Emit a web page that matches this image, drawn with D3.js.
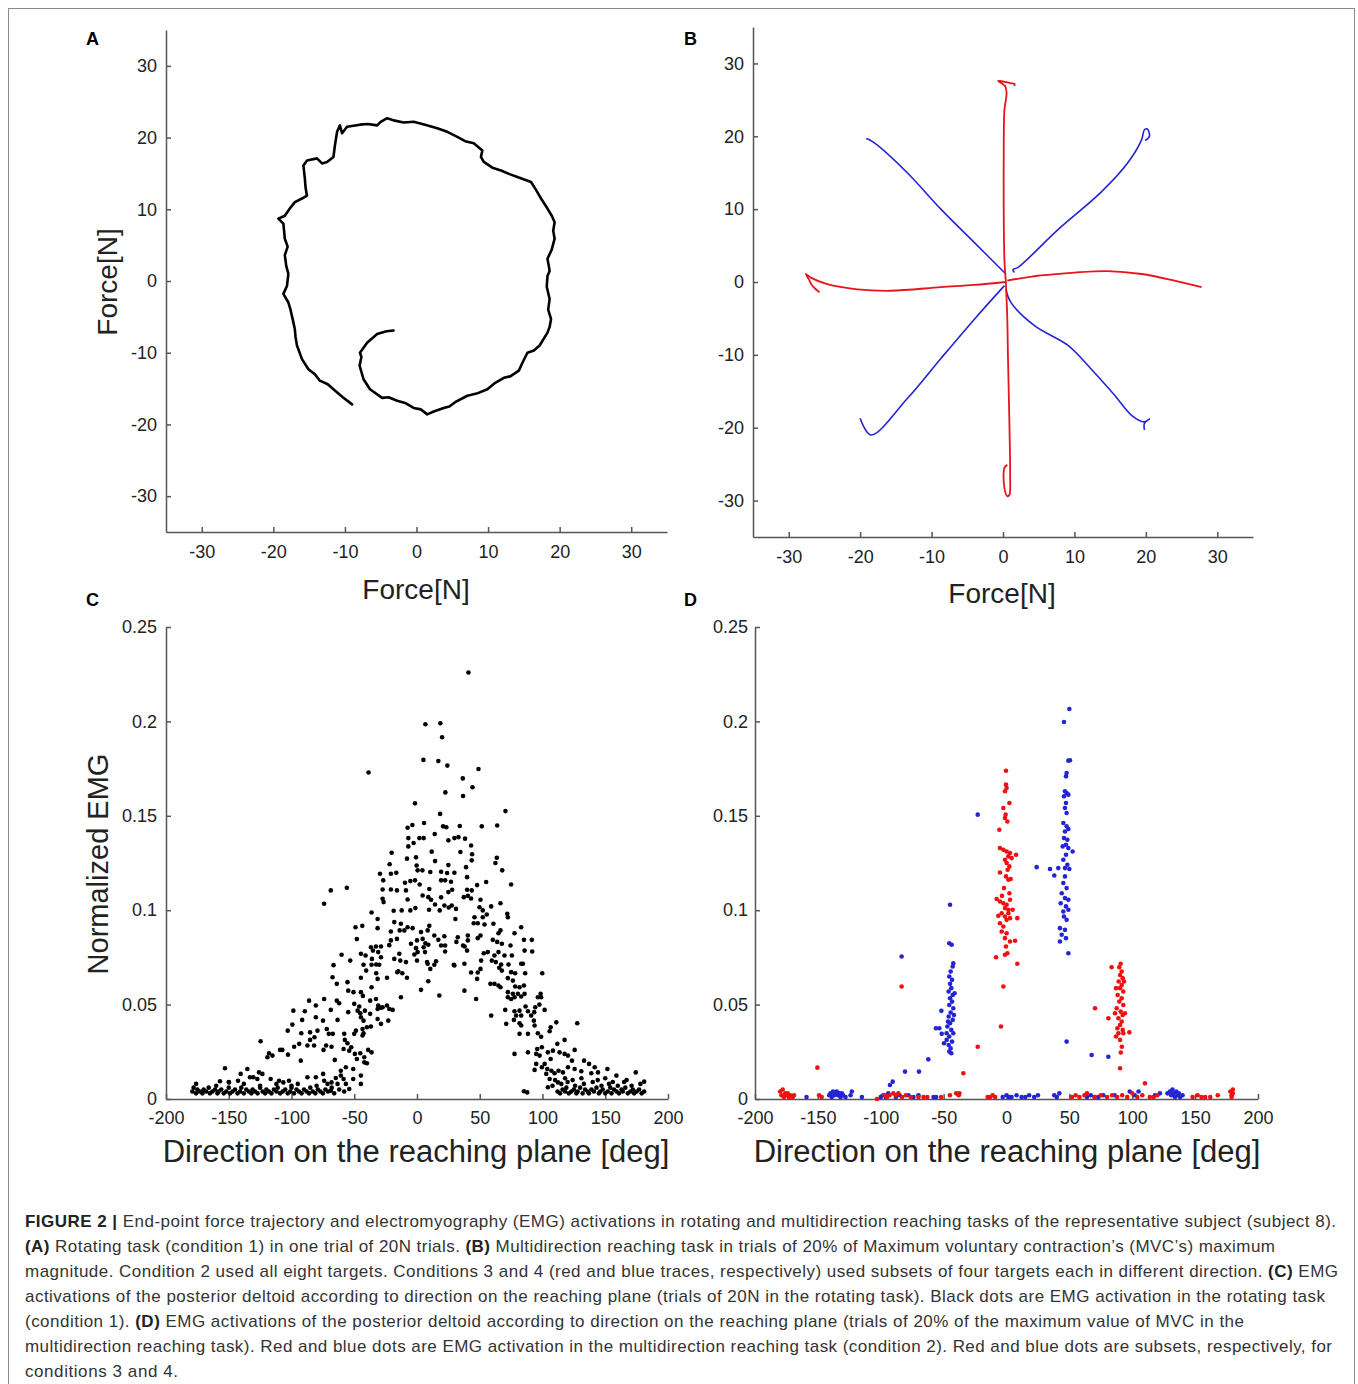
<!DOCTYPE html>
<html lang="en">
<head>
<meta charset="UTF-8">
<title>Figure 2</title>
<script src="https://cdn.jsdelivr.net/npm/d3@7"></script>
<style>
  body { margin: 0; background: #fff; }
  svg text { font-family: "Liberation Sans", Arial, sans-serif; }
  .tick text { font-size: 18px; fill: #222; }
  .domain, .tick line { stroke: #555; stroke-width: 1.5; }
  .axis-label { fill: #222; }
  .panel-letter { font-size: 18px; font-weight: bold; fill: #000; }
  .caption { font-size: 17px; fill: #333; }
</style>
</head>
<body>
<div id="chart-space"></div>
<script>
// ---- data ----
var forceTicks = [-30, -20, -10, 0, 10, 20, 30];
var dirTicks = [-200, -150, -100, -50, 0, 50, 100, 150, 200];
var emgTicks = [0, 0.05, 0.1, 0.15, 0.2, 0.25];

// panel A: rotating task force trajectory [Fx, Fy]
var traceA = [[-3.2,-6.9],[-4.2,-7.0],[-5.5,-7.4],[-6.9,-8.6],[-7.9,-10.0],[-7.7,-10.6],[-7.95,-11.8],[-7.4,-13.7],[-6.5,-15.1],
  [-4.8,-16.3],[-3.9,-16.2],[-2.7,-16.7],[-1.6,-17.0],[-0.4,-17.7],[0.6,-17.9],[1.5,-18.6],[2.4,-18.2],[3.8,-17.7],[4.6,-17.5],
  [5.4,-16.9],[7.1,-16.0],[8.4,-15.7],[9.9,-15.1],[11.0,-14.2],[12.2,-13.5],[13.1,-13.3],[14.3,-12.5],[14.8,-11.4],[15.5,-10.0],
  [16.4,-9.7],[17.2,-9.0],[18.3,-7.2],[18.6,-6.4],[18.8,-5.3],[18.4,-4.0],[18.6,-2.5],[18.2,-0.8],[18.3,0.7],[18.6,1.4],
  [18.5,2.0],[18.3,3.1],[18.9,4.4],[19.3,5.9],[19.1,7.0],[19.3,8.2],[18.9,9.1],[18.3,10.1],[17.4,11.5],[16.7,12.7],[16.0,13.8],
  [14.1,14.5],[13.0,14.9],[11.8,15.4],[10.6,15.8],[9.4,16.6],[9.0,17.3],[9.2,18.2],[8.0,19.2],[6.8,19.5],[5.7,20.1],[4.3,20.8],
  [2.9,21.3],[1.2,21.8],[-0.4,22.2],[-1.8,22.1],[-3.2,22.4],[-4.1,22.7],[-5.0,22.2],[-5.5,21.7],[-6.8,21.9],[-7.9,21.8],
  [-9.7,21.5],[-10.4,20.6],[-10.7,21.7],[-11.1,20.8],[-11.4,18.9],[-11.6,17.3],[-12.5,16.6],[-13.2,16.4],[-13.9,17.1],
  [-15.3,16.8],[-15.8,16.1],[-15.6,14.3],[-15.5,13.0],[-15.3,11.9],[-16.0,11.5],[-17.0,11.0],[-17.7,10.1],[-18.4,9.1],
  [-19.3,8.7],[-18.6,8.0],[-18.4,5.9],[-18.0,4.8],[-18.4,3.6],[-18.2,2.1],[-17.9,1.0],[-18.1,-0.7],[-18.6,-1.8],[-17.9,-3.0],
  [-17.6,-4.0],[-17.4,-4.9],[-17.0,-6.7],[-16.9,-7.8],[-16.7,-9.0],[-16.0,-10.9],[-15.1,-12.3],[-14.2,-13.0],[-13.5,-13.9],
  [-12.4,-14.4],[-11.6,-15.1],[-10.3,-16.2],[-9.0,-17.2]];

// panel B: multidirection reaching traces (condition 3 red, condition 4 blue)
var bRedUp = [[0.4,0],[0.2,3.1],[0.1,10],[0.1,16.8],[0.2,23.6],[0.5,25.9],[0.3,26.9],[-0.7,27.6],[1.0,27.3],[1.6,27.2],[1.6,26.9]];
var bRedDown = [[0.4,0],[0.6,-5],[0.7,-10.5],[0.9,-19.6],[1.0,-26.5],[0.9,-29.2],[0.6,-29.4],[0.2,-28.3],[0.2,-25.5],[0.6,-25.1]];
var bRedLeft = [[0.4,0],[-4,-0.4],[-8.7,-0.7],[-15.7,-1.2],[-20.4,-1.0],[-24.6,-0.3],[-26.9,0.6],[-27.6,1.1],[-27.2,0.4],[-26.7,-0.5],[-25.7,-1.4]];
var bRedRight = [[0.6,0.2],[5.3,0.9],[10.0,1.3],[14.7,1.5],[19.4,1.1],[24.0,0.2],[27.8,-0.7]];
var bBlueUL = [[0.4,1.1],[-4,5.4],[-8.7,10],[-13.4,15],[-18,19.1],[-19.1,19.7],[-18.6,19.5]];
var bBlueUR = [[1.6,1.3],[1.4,1.7],[2.1,2.0],[7.7,7.2],[13.7,12.3],[17.5,16.4],[19.4,19.5],[19.8,20.9],[20.2,21.0],[20.5,20.0],[19.9,19.4]];
var bBlueLL = [[0.2,-0.5],[-4,-5.1],[-8.7,-10.5],[-13.4,-16],[-18.5,-21],[-20,-18.7]];
var bBlueLR = [[0.4,-1],[1.1,-2.8],[4.4,-6],[9.1,-8.7],[12.3,-11.9],[15.6,-15.5],[18,-18.3],[19.8,-19.2],[20.5,-18.8],[19.8,-19.4],[19.8,-20.3]];

// panel C: EMG vs direction, rotating task [deg, EMG]
var cDots = [[41.0,0.2259],[6.7,0.1985],[18.6,0.199],[20.0,0.1916],[5.1,0.1796],[17.0,0.179],[24.2,0.1766],[-38.6,0.1729],
  [49.0,0.1748],[36.5,0.1698],[44.2,0.1651],[22.6,0.1624],[36.7,0.1605],[-1.6,0.1566],[70.5,0.1525],[18.4,0.151],[5.6,0.1462],
  [-3.7,0.1451],[-7.5,0.1437],[20.8,0.1444],[23.4,0.1439],[34.1,0.1446],[51.6,0.1444],[63.9,0.1449],[14.1,0.1403],[-6.9,0.1382],
  [1.9,0.1382],[5.3,0.1382],[25.0,0.137],[29.8,0.1382],[33.0,0.1387],[38.3,0.1379],[-6.9,0.1338],[-2.7,0.1356],[43.1,0.1343],
  [-20.2,0.1304],[11.7,0.131],[34.6,0.1308],[-8.0,0.1273],[-0.8,0.128],[43.9,0.1296],[63.6,0.1278],[62.5,0.125],[43.6,0.1264],
  [-21.8,0.1243],[14.4,0.126],[-0.3,0.1237],[25.0,0.1239],[39.1,0.1228],[67.9,0.1211],[-29.5,0.1193],[0.5,0.1211],[4.3,0.1211],
  [10.6,0.1202],[19.2,0.1204],[24.0,0.1197],[29.8,0.1198],[-20.8,0.1193],[-16.5,0.1198],[39.9,0.1175],[-26.9,0.1158],
  [-9.6,0.1145],[-5.3,0.1154],[-1.6,0.1158],[2.1,0.1136],[19.2,0.1158],[22.4,0.1158],[27.1,0.1151],[47.9,0.1133],[55.1,0.1149],
  [75.0,0.1136],[-27.4,0.111],[-20.8,0.111],[-16.0,0.1105],[-8.8,0.1105],[9.8,0.1112],[28.0,0.1108],[39.9,0.1108],[43.6,0.1105],
  [4.5,0.1078],[9.0,0.1069],[19.2,0.1068],[25.0,0.1096],[40.5,0.1076],[50.6,0.1055],[-27.4,0.106],[-26.6,0.1043],[-7.5,0.1057],
  [11.2,0.1055],[14.4,0.103],[21.8,0.1025],[27.7,0.1025],[37.3,0.1069],[43.1,0.1062],[-74.0,0.1034],[-68.7,0.1105],[-55.9,0.1119],
  [66.5,0.1037],[49.8,0.1016],[25.3,0.1014],[31.1,0.1007],[52.4,0.0999],[59.1,0.102],[-5.3,0.0999],[-12.2,0.0999],[-36.2,0.0988],
  [-18.6,0.0997],[-1.3,0.1011],[9.6,0.1002],[18.1,0.0999],[55.6,0.0977],[71.9,0.0981],[72.4,0.0963],[-31.4,0.0953],[30.6,0.0953],
  [45.8,0.0963],[52.4,0.0963],[-18.1,0.0937],[-12.8,0.0928],[-7.5,0.091],[-3.5,0.0905],[9.8,0.0917],[45.2,0.0931],[48.4,0.0931],
  [53.8,0.0924],[60.9,0.0928],[83.0,0.091],[77.7,0.0878],[66.5,0.0893],[64.9,0.0878],[-49.0,0.091],[-43.6,0.0917],[-31.4,0.0905],
  [-20.8,0.0887],[-13.8,0.0893],[-10.1,0.0893],[3.2,0.0884],[8.5,0.0893],[13.8,0.0866],[21.8,0.0862],[32.5,0.0857],[40.5,0.0866],
  [50.6,0.0866],[4.5,0.0848],[-47.9,0.0847],[-20.8,0.084],[-16.0,0.0848],[0,0.084],[6.7,0.0825],[17.0,0.0843],[31.4,0.0832],
  [40.5,0.084],[48.4,0.0852],[60.4,0.0843],[63.9,0.0832],[85.2,0.0843],[91.5,0.0843],[9.0,0.0817],[19.2,0.0813],[22.4,0.0813],
  [36.7,0.0813],[74.5,0.0813],[67.6,0.0822],[-36.7,0.0804],[-32.7,0.0808],[-28.7,0.0808],[-22.1,0.0815],[-4.8,0.0822],
  [-0.8,0.0799],[5.3,0.0804],[38.0,0.0808],[-44.7,0.0769],[-41.0,0.076],[-35.1,0.0786],[-30.9,0.0778],[-14.1,0.0769],[-2.1,0.0765],
  [0.5,0.0778],[6.4,0.0778],[22.4,0.0781],[39.9,0.0786],[53.2,0.0772],[56.4,0.0778],[61.7,0.076],[64.9,0.0778],[69.7,0.076],
  [75.6,0.076],[85.7,0.0786],[91.8,0.0781],[-60.1,0.0764],[-53.2,0.0733],[-35.9,0.0742],[-28.7,0.0751],[-18.1,0.0742],
  [-13.3,0.0733],[-8.8,0.0725],[0,0.0733],[8.0,0.0725],[15.2,0.073],[29.3,0.0711],[37.8,0.0716],[51.1,0.0733],[59.6,0.0733],
  [62.8,0.0725],[67.1,0.0712],[72.9,0.0712],[83.0,0.0716],[-66.5,0.0709],[-42.6,0.0711],[-36.2,0.0711],[-32.5,0.0712],
  [-30.1,0.0711],[8.5,0.0716],[10.6,0.0689],[13.8,0.0711],[29.8,0.0707],[65.5,0.0695],[67.6,0.068],[75.0,0.0672],[78.2,0.0666],
  [84.4,0.0716],[86.2,0.0666],[99.8,0.0666],[-40.5,0.068],[-32.5,0.0666],[-15.7,0.0672],[-11.7,0.0666],[43.1,0.067],[48.4,0.067],
  [50.6,0.0689],[-67.3,0.0645],[-44.7,0.0642],[-31.4,0.0636],[-23.9,0.0642],[-8.0,0.0642],[9.0,0.0624],[47.9,0.0636],[72.4,0.064],
  [76.4,0.0627],[-63.9,0.061],[-55.4,0.0619],[-14.9,0.0677],[58.5,0.061],[61.7,0.061],[64.9,0.0601],[66.5,0.0592],[78.2,0.0596],
  [81.7,0.0592],[85.2,0.0601],[-36.2,0.0592],[3.2,0.0578],[17.8,0.0548],[37.8,0.0574],[-54.8,0.0574],[-50.6,0.0566],[-44.7,0.0566],
  [72.4,0.0566],[76.4,0.0557],[80.4,0.0557],[83.0,0.0543],[85.7,0.0557],[98.5,0.0557],[-43.1,0.0546],[-37.3,0.0521],[-32.7,0.053],
  [72.4,0.0539],[75.0,0.053],[77.7,0.0539],[96.3,0.0539],[98.9,0.0539],[-86.0,0.0521],[-80.6,0.0495],[-74.0,0.053],[-63.9,0.0521],
  [-62.0,0.0507],[-50.0,0.0504],[-46.0,0.049],[-30.9,0.0495],[-27.4,0.0486],[-23.9,0.0495],[-12.8,0.0539],[47.1,0.053],
  [59.1,0.0442],[97.5,0.05],[94.2,0.0486],[81.7,0.0468],[86.5,0.049],[-98.5,0.0468],[-89.4,0.0465],[-68.7,0.0472],[-54.8,0.046],
  [-47.3,0.0468],[-45.2,0.0454],[-41.5,0.0468],[-37.3,0.0451],[-31.4,0.0477],[-28.7,0.0483],[-22.1,0.0477],[-19.4,0.0472],
  [70.3,0.0472],[77.7,0.0465],[79.0,0.0442],[88.4,0.0465],[91.0,0.0442],[101.7,0.0472],[93.4,0.046],[83.0,0.0442],[71.1,0.0398],
  [-91.5,0.0419],[-80.6,0.0433],[-74.9,0.0415],[-63.3,0.0419],[-44.7,0.0433],[-42.6,0.0415],[-31.4,0.0424],[-22.9,0.0415],
  [77.2,0.0419],[81.7,0.0401],[93.1,0.0415],[111.0,0.0406],[127.7,0.0401],[-103.0,0.0362],[-71.9,0.0371],[-79.3,0.0362],
  [-99.3,0.0394],[-48.7,0.0362],[-43.4,0.0371],[-39.9,0.038],[-36.7,0.0384],[-28.7,0.0398],[83.0,0.0389],[93.7,0.0389],
  [106.5,0.038],[105.7,0.0359],[-92.2,0.0348],[-85.2,0.0353],[-81.7,0.0327],[-70.3,0.0345],[-67.1,0.0345],[-58.0,0.0345],
  [-50.0,0.0345],[-43.4,0.0336],[-42.6,0.0348],[81.7,0.0345],[88.4,0.0345],[96.3,0.0348],[98.9,0.033],[117.6,0.0313],
  [-124.6,0.0306],[-119.2,0.0221],[-117.9,0.0242],[-115.2,0.023],[-109.1,0.026],[-107.3,0.026],[-102.8,0.0235],[-97.9,0.0277],
  [-93.9,0.0292],[-92.6,0.0203],[-87.3,0.0283],[-82.0,0.0283],[-74.5,0.026],[-72.4,0.0283],[-85.2,0.0313],[-68.1,0.0277],
  [-65.5,0.0207],[-57.5,0.0313],[-55.4,0.0295],[-58.5,0.0265],[-54.0,0.0256],[-52.4,0.0274],[-49.5,0.0239],[-47.9,0.0212],
  [-45.2,0.0242],[-42.0,0.0221],[-39.9,0.0189],[-36.2,0.0247],[-50.8,0.0159],[-56.7,0.0168],[-60.7,0.015],[-42.0,0.0194],
  [-38.9,0.026],[77.7,0.0239],[88.4,0.0247],[95.8,0.0265],[95.0,0.0239],[97.7,0.023],[99.5,0.0274],[104.3,0.0247],[106.5,0.0212],
  [108.3,0.0256],[111.8,0.0292],[113.6,0.0247],[117.6,0.0239],[120.3,0.023],[125.6,0.026],[123.5,0.0203],[95.0,0.0186],
  [99.5,0.0168],[101.7,0.0186],[103.8,0.0159],[93.7,0.0154],[107.1,0.015],[109.6,0.0136],[112.8,0.015],[116.3,0.0141],
  [120.3,0.0168],[125.6,0.0159],[130.9,0.0147],[133.1,0.0203],[137.1,0.0186],[141.6,0.0168],[138.9,0.0136],[144.2,0.0141],
  [151.7,0.0159],[158.9,0.0124],[174.3,0.0141],[181.0,0.0092],[103.0,0.0133],[105.7,0.0106],[104.3,0.0062],[112.3,0.0088],
  [87.8,0.0035],[85.2,0.0041],[-153.0,0.0163],[-135.2,0.0159],[-140.5,0.0133],[-133.1,0.0115],[-125.9,0.0141],[-123.2,0.0133],
  [-157.0,0.0094],[-149.8,0.0088],[-142.6,0.0097],[-130.4,0.0115],[-127.2,0.0106],[-116.6,0.0106],[-109.9,0.0097],
  [-106.5,0.0088],[-102.0,0.0097],[-87.3,0.0115],[-80.6,0.0115],[-74.8,0.0133],[-74.0,0.0097],[-71.3,0.008],[-68.1,0.0088],
  [-64.7,0.0111],[-63.3,0.008],[-60.7,0.0124],[-58.5,0.0106],[-56.7,0.008],[-54.0,0.0053],[-50.8,0.0106],[-44.7,0.008],
  [-44.7,0.0124],[-68.7,0.0044]];
// dense baseline bands of panel C
var cBaseLeft = [[-179,0.004],[-178,0.006],[-176,0.003],[-175,0.005],[-173,0.004],[-171,0.003],[-170,0.005],[-168,0.004],
  [-166,0.006],[-165,0.003],[-163,0.004],[-161,0.005],[-159,0.003],[-158,0.004],[-156,0.005],[-154,0.003],[-152,0.004],
  [-150,0.006],[-149,0.003],[-147,0.004],[-145,0.005],[-143,0.003],[-141,0.004],[-140,0.006],[-138,0.003],[-136,0.005],
  [-134,0.004],[-132,0.003],[-131,0.005],[-129,0.004],[-127,0.003],[-125,0.006],[-123,0.004],[-121,0.003],[-120,0.005],
  [-118,0.004],[-116,0.003],[-114,0.005],[-112,0.004],[-111,0.006],[-109,0.003],[-107,0.004],[-105,0.005],[-103,0.003],
  [-101,0.004],[-100,0.006],[-98,0.003],[-96,0.005],[-94,0.004],[-92,0.003],[-90,0.005],[-88,0.004],[-86,0.003],[-85,0.006],
  [-83,0.004],[-81,0.003],[-79,0.005],[-77,0.004],[-75,0.003],[-73,0.005],[-71,0.004],[-176,0.008],[-160,0.007],[-150,0.009],
  [-138,0.008],[-125,0.007],[-112,0.008],[-100,0.007],[-95,0.008],[-80,0.007],[-68,0.006],[-66,0.003],[-62,0.005],[-58,0.004]];
var cBaseRight = [[112,0.004],[114,0.003],[116,0.005],[118,0.004],[119,0.006],[121,0.003],[123,0.004],[125,0.005],[127,0.003],
  [128,0.004],[130,0.006],[132,0.003],[134,0.005],[136,0.004],[137,0.003],[139,0.005],[141,0.004],[143,0.006],[145,0.003],
  [146,0.004],[148,0.005],[150,0.003],[152,0.004],[154,0.006],[155,0.003],[157,0.005],[159,0.004],[161,0.003],[163,0.005],
  [164,0.004],[166,0.006],[168,0.003],[170,0.004],[172,0.005],[173,0.003],[175,0.004],[177,0.005],[179,0.003],[181,0.004],
  [115,0.008],[120,0.009],[126,0.007],[133,0.008],[140,0.009],[147,0.007],[153,0.008],[160,0.007],[165,0.009],[171,0.007],
  [178,0.008],[108,0.007],[110,0.010],[118,0.011],[124,0.010],[131,0.011],[144,0.010],[150,0.011],[156,0.009],[167,0.010]];

// panel D: EMG vs direction, multidirection task
var dRed = [[-0.4,0.1739],[-0.4,0.1665],[0.1,0.1647],[-1.2,0.163],[2.3,0.1568],[-2.5,0.1541],[-0.7,0.1506],[-1.2,0.1488],
  [0.7,0.147],[-5.7,0.1426],[-5.2,0.1329],[-2.5,0.132],[0.1,0.1311],[2.8,0.1303],[7.6,0.1294],[1.5,0.1285],[4.1,0.1276],
  [-1.2,0.1267],[0.1,0.125],[2.3,0.1232],[0.9,0.1214],[-5.2,0.12],[-0.4,0.1179],[1.5,0.1161],[-7.8,0.1059],[-5.2,0.1046],
  [-2.5,0.1037],[0.1,0.1029],[2.8,0.1055],[-1.2,0.1011],[1.5,0.1002],[-3.8,0.0984],[-1.2,0.0967],[0.1,0.0949],[-5.2,0.0931],
  [-2.5,0.0914],[2.8,0.0958],[8.6,0.0958],[1.5,0.0984],[-6.5,0.097],[-3.8,0.0887],[0.1,0.0878],[-1.2,0.0852],[2.8,0.0834],
  [6.8,0.0838],[-0.4,0.0808],[0.7,0.0772],[-1.2,0.0764],[-8.3,0.0751],[8.6,0.0716],[-2.5,0.0596],[-4.4,0.0384],[-22.9,0.0277],
  [-34.3,0.0136],[2.3,0.109],[-2.0,0.1117],[3.3,0.1165],[-3.6,0.1076],[4.9,0.1002],
  [90.8,0.0716],[89.7,0.0698],[83.6,0.0698],[91.6,0.0675],[90.3,0.0657],[92.4,0.064],[89.2,0.0622],[91.6,0.0604],[90.3,0.0587],
  [92.9,0.0569],[88.4,0.0551],[91.6,0.0534],[89.7,0.0516],[92.9,0.0498],[87.6,0.0481],[90.8,0.0463],[92.4,0.0445],[89.0,0.0428],
  [91.6,0.041],[90.3,0.0392],[88.2,0.0375],[92.4,0.0366],[89.0,0.0348],[87.1,0.0331],[90.3,0.0313],[93.4,0.0622],[87.1,0.0587],
  [94.2,0.0454],[86.3,0.0454],[92.9,0.0348],[91.7,0.0277],[90.9,0.0246],[90.3,0.0163],[70.4,0.0481],[81.0,0.0428],[97.7,0.0353],
  [-83.4,0.0596],[-150.4,0.0166],[110.1,0.0083],[-37.5,0.003],
  [-180,0.004],[-179,0.002],[-178,0.005],[-177,0.001],[-176,0.003],[-175,0.002],[-174,0.003],[-173,0.001],[-172,0.002],
  [-170,0.001],[-169,0.002],[-149,0.002],[-147,0.001],[-103,0.000],[-97,0.002],[-95,0.001],[-93,0.002],[-90,0.003],[-88,0.002],
  [-86,0.003],[-83,0.001],[-80,0.002],[-76,0.001],[-70,0.001],[-66,0.001],[-63,0.001],[-52,0.001],[-45,0.002],[-40,0.003],
  [-38,0.002],[-15,0.001],[-13,0.001],[-11,0.002],[-9,0.001],[52,0.001],[55,0.002],[58,0.001],[62,0.002],[64,0.003],[70,0.001],
  [75,0.002],[80,0.001],[84,0.002],[88,0.001],[92,0.002],[96,0.001],[100,0.003],[104,0.001],[108,0.002],[114,0.001],[117,0.001],
  [120,0.002],[148,0.001],[152,0.002],[155,0.001],[158,0.001],[162,0.001],[168,0.002],[178,0.004],[179,0.002],[180,0.003],
  [179,0.001],[180,0.005]];
var dBlue = [[-44.9,0.1029],[-45.5,0.0825],[-43.6,0.0817],[-42.3,0.0719],[-42.8,0.0702],[-44.4,0.0675],[-45.5,0.0649],
  [-43.3,0.0631],[-44.9,0.061],[-43.9,0.0587],[-46.0,0.0569],[-42.8,0.0551],[-44.9,0.0534],[-43.3,0.0516],[-45.5,0.0498],
  [-42.3,0.0481],[-44.4,0.0458],[-46.0,0.0437],[-42.8,0.0419],[-44.9,0.0401],[-47.0,0.0384],[-43.9,0.0366],[-42.3,0.0348],
  [-45.5,0.0331],[-47.6,0.0313],[-43.3,0.0304],[-46.0,0.0286],[-44.4,0.0269],[-45.5,0.0251],[-43.9,0.0242],[-46.5,0.041],
  [-41.8,0.0445],[-47.6,0.0348],[-41.3,0.056],[-56.1,0.0375],[-53.4,0.0375],[-51.8,0.0467],[-51.5,0.0345],[-49.7,0.0295],
  [-62.2,0.021],[-69.6,0.0145],[-80.7,0.0145],[-83.4,0.0755],[-90.5,0.0092],[-92.7,0.0074],[-22.9,0.1506],
  [50.0,0.2066],[45.7,0.1997],[49.2,0.1792],[50.5,0.1794],[47.8,0.1727],[47.3,0.1709],[46.5,0.163],[47.8,0.1621],[49.2,0.1612],
  [45.7,0.1603],[47.3,0.1568],[46.5,0.1541],[47.8,0.1515],[45.2,0.1462],[47.8,0.1444],[49.2,0.143],[46.5,0.1417],[45.7,0.1382],
  [48.4,0.1373],[47.3,0.1347],[44.7,0.1338],[49.2,0.1329],[52.6,0.1311],[47.3,0.1294],[45.2,0.1267],[48.4,0.1241],[46.5,0.1223],
  [50.0,0.1218],[41.2,0.1223],[34.6,0.1218],[38.0,0.1184],[24.0,0.1228],[46.5,0.1179],[45.2,0.1144],[47.8,0.1117],[43.9,0.109],
  [46.5,0.1064],[49.2,0.1055],[43.1,0.1037],[47.3,0.102],[45.2,0.0993],[49.2,0.1002],[45.7,0.0967],[47.8,0.0949],[42.5,0.0905],
  [46.5,0.0896],[43.9,0.087],[47.3,0.0852],[42.5,0.0834],[49.2,0.0772],[47.8,0.0304],[67.7,0.0233],[81.0,0.0224],
  [-159,0.001],[-141,0.002],[-140,0.003],[-139,0.001],[-138,0.004],[-137,0.002],[-136,0.003],[-135,0.004],[-134,0.002],
  [-133,0.003],[-132,0.001],[-131,0.003],[-130,0.002],[-128,0.001],[-124,0.002],[-123,0.004],[-115,0.001],[-100,0.001],
  [-98,0.002],[-96,0.001],[-94,0.003],[-88,0.001],[-85,0.002],[-78,0.002],[-74,0.001],[-70,0.002],[-58,0.001],[-56,0.001],
  [-3,0.001],[0,0.002],[2,0.001],[4,0.001],[8,0.002],[12,0.001],[15,0.001],[18,0.002],[22,0.001],[25,0.002],[38,0.002],
  [40,0.001],[42,0.003],[64,0.001],[67,0.002],[70,0.001],[73,0.001],[77,0.002],[86,0.002],[98,0.004],[102,0.002],[105,0.004],
  [118,0.002],[122,0.003],[128,0.003],[130,0.004],[131,0.002],[132,0.005],[133,0.003],[134,0.001],[135,0.004],[136,0.002],
  [137,0.003],[138,0.001],[140,0.002]];

// caption lines: [text, bold]
var captionLines = [
  [["FIGURE 2 | ", true], ["End-point force trajectory and electromyography (EMG) activations in rotating and multidirection reaching tasks of the representative subject (subject 8).", false]],
  [["(A)", true], [" Rotating task (condition 1) in one trial of 20N trials. ", false], ["(B)", true], [" Multidirection reaching task in trials of 20% of Maximum voluntary contraction\u2019s (MVC\u2019s) maximum", false]],
  [["magnitude. Condition 2 used all eight targets. Conditions 3 and 4 (red and blue traces, respectively) used subsets of four targets each in different direction. ", false], ["(C)", true], [" EMG", false]],
  [["activations of the posterior deltoid according to direction on the reaching plane (trials of 20N in the rotating task). Black dots are EMG activation in the rotating task", false]],
  [["(condition 1). ", false], ["(D)", true], [" EMG activations of the posterior deltoid according to direction on the reaching plane (trials of 20% of the maximum value of MVC in the", false]],
  [["multidirection reaching task). Red and blue dots are EMG activation in the multidirection reaching task (condition 2). Red and blue dots are subsets, respectively, for", false]],
  [["conditions 3 and 4.", false]]
];
var captionEnds = [1336, 1275, 1338, 1325, 1244, 1332, 178];

// ---- drawing ----
var width = 1358, height = 1384;
var RED = "#e8141b", BLUE = "#2424d6";

var svg = d3.select("#chart-space").append("svg")
    .attr("width", width).attr("height", height);

svg.append("rect")
    .attr("x", 8.5).attr("y", 8.5).attr("width", 1346).attr("height", 1420)
    .attr("fill", "none").attr("stroke", "#8a8a8a").attr("stroke-width", 1);

function makePanel(xDom, xRange, yDom, yRange, xTicks, yTicks, padX, padY) {
    var x = d3.scaleLinear().domain(xDom).range(xRange);
    var y = d3.scaleLinear().domain(yDom).range(yRange);
    var fmt = function(d) { return String(d); };
    svg.append("g")
        .attr("transform", "translate(0," + yRange[0] + ")")
        .call(d3.axisBottom(x).tickValues(xTicks).tickFormat(fmt).tickSize(-5).tickSizeOuter(0).tickPadding(padX));
    svg.append("g")
        .attr("transform", "translate(" + xRange[0] + ",0)")
        .call(d3.axisLeft(y).tickValues(yTicks).tickFormat(fmt).tickSize(-5).tickSizeOuter(0).tickPadding(padY));
    return {x: x, y: y};
}

function label(txt, x, y, size, rotate) {
    svg.append("text")
        .attr("class", "axis-label")
        .attr("transform", "translate(" + x + "," + y + ")" + (rotate ? " rotate(-90)" : ""))
        .attr("text-anchor", "middle")
        .attr("dominant-baseline", "central")
        .style("font-size", size + "px")
        .text(txt);
}

function letter(txt, x, y) {
    svg.append("text").attr("class", "panel-letter")
        .attr("x", x).attr("y", y).attr("dominant-baseline", "central").text(txt);
}

// panel A
var pA = makePanel([-35, 35], [166, 667], [-35, 35], [532, 30], forceTicks, forceTicks, 13, 9);
var lineA = d3.line().x(function(d) { return pA.x(d[0]); }).y(function(d) { return pA.y(d[1]); });
svg.append("path").datum(traceA)
    .attr("d", lineA).attr("fill", "none").attr("stroke", "#000")
    .attr("stroke-width", 2.6).attr("stroke-linejoin", "round").attr("stroke-linecap", "round");
label("Force[N]", 107, 282, 28, true);
label("Force[N]", 416, 589, 28, false);
letter("A", 86, 39);

// panel B
var pB = makePanel([-35, 35], [753, 1253], [-35, 35], [537, 27], forceTicks, forceTicks, 13, 9);
var lineB = d3.line().curve(d3.curveCatmullRom.alpha(0.5))
    .x(function(d) { return pB.x(d[0]); }).y(function(d) { return pB.y(d[1]); });
[bBlueUL, bBlueUR, bBlueLL, bBlueLR].forEach(function(tr) {
    svg.append("path").datum(tr).attr("d", lineB).attr("fill", "none")
        .attr("stroke", BLUE).attr("stroke-width", 1.6);
});
[bRedUp, bRedDown, bRedLeft, bRedRight].forEach(function(tr) {
    svg.append("path").datum(tr).attr("d", lineB).attr("fill", "none")
        .attr("stroke", RED).attr("stroke-width", 1.8);
});
label("Force[N]", 1002, 593, 28, false);
letter("B", 684, 39);

// panel C
var pC = makePanel([-200, 200], [166, 668], [0, 0.25], [1099, 627], dirTicks, emgTicks, 12, 9);
svg.append("g").selectAll("circle")
    .data(cBaseLeft.concat(cBaseRight, cDots))
    .join("circle")
    .attr("cx", function(d) { return pC.x(d[0]); })
    .attr("cy", function(d) { return pC.y(d[1]); })
    .attr("r", 2.3).attr("fill", "#000");
label("Normalized EMG", 98, 864, 29, true);
label("Direction on the reaching plane [deg]", 416, 1151, 31, false);
letter("C", 86, 600);

// panel D
var pD = makePanel([-200, 200], [755, 1258], [0, 0.25], [1099, 627], dirTicks, emgTicks, 12, 7);
svg.append("g").selectAll("circle")
    .data(dBlue)
    .join("circle")
    .attr("cx", function(d) { return pD.x(d[0]); })
    .attr("cy", function(d) { return pD.y(d[1]); })
    .attr("r", 2.3).attr("fill", BLUE);
svg.append("g").selectAll("circle")
    .data(dRed)
    .join("circle")
    .attr("cx", function(d) { return pD.x(d[0]); })
    .attr("cy", function(d) { return pD.y(d[1]); })
    .attr("r", 2.3).attr("fill", "#f01010");
label("Direction on the reaching plane [deg]", 1007, 1151, 31, false);
letter("D", 684, 600);

// caption
captionLines.forEach(function(segs, i) {
    var t = svg.append("text").attr("class", "caption")
        .attr("x", 25).attr("y", 1227 + i * 25)
        .attr("textLength", captionEnds[i] - 25).attr("lengthAdjust", "spacing");
    segs.forEach(function(s) {
        t.append("tspan").text(s[0]).style("font-weight", s[1] ? "bold" : "normal")
            .style("fill", s[1] ? "#222" : "#333");
    });
});
</script>
</body>
</html>
